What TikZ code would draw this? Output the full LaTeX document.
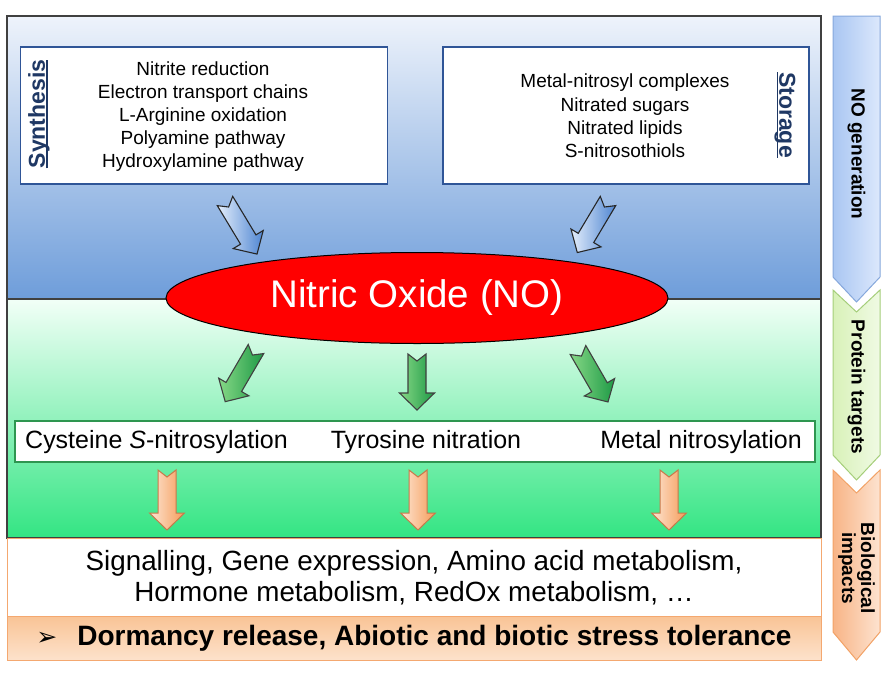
\documentclass[tikz,border=0pt]{standalone}
\usepackage{fontspec}
\setmainfont{Liberation Sans}
\newfontfamily\dejavu{DejaVu Sans}
\usetikzlibrary{shapes.geometric}
\newcommand\myul[1]{\setbox0\hbox{#1}\rlap{\rule[-2.6pt]{\wd0}{1.3pt}}\box0}
\definecolor{bluetop}{HTML}{EEF3FB}
\definecolor{bluebot}{HTML}{6E9DDA}
\definecolor{greentop}{HTML}{F2FFF7}
\definecolor{greenbot}{HTML}{33E583}
\definecolor{framec}{HTML}{404040}
\definecolor{navyc}{HTML}{1F3864}
\definecolor{boxblue}{HTML}{2F5597}
\definecolor{boxgreen}{HTML}{2E9650}
\definecolor{orline}{HTML}{F4A870}
\definecolor{bartop}{HTML}{F9C496}
\definecolor{barbot}{HTML}{FDE2CC}
\definecolor{batail}{HTML}{E4EEFB}
\definecolor{bahead}{HTML}{4E85D2}
\definecolor{gatail}{HTML}{86D886}
\definecolor{gahead}{HTML}{1E9A46}
\definecolor{oatail}{HTML}{FDE6D4}
\definecolor{oahead}{HTML}{F59B58}
\definecolor{oaline}{HTML}{C8784A}
\definecolor{sbl}{HTML}{A9C6F2}
\definecolor{sbr}{HTML}{DCE8FC}
\definecolor{sbd}{HTML}{86A8DC}
\definecolor{sgl}{HTML}{D8F1B8}
\definecolor{sgr}{HTML}{F0FAE4}
\definecolor{sgd}{HTML}{A5CE7A}
\definecolor{sol}{HTML}{F8B486}
\definecolor{sor}{HTML}{FDE3D0}
\definecolor{sod}{HTML}{F2A266}
\tikzset{
  listbox/.style={draw=boxblue, line width=1.8pt, fill=white, anchor=north west, inner sep=0pt},
  listtext/.style={align=center, font=\fontsize{19}{23.2}\selectfont, inner sep=0pt},
  sidelabel/.style={font=\bfseries\fontsize{23}{26}\selectfont, text=navyc, inner sep=0pt},
  protext/.style={font=\fontsize{25}{28}\selectfont, inner sep=0pt},
  sidetext/.style={font=\bfseries\fontsize{19}{19}\selectfont, rotate=-90, inner sep=0pt, align=center},
  bluearr/.style={left color=batail, right color=bahead, draw=black!85, line width=1.1pt},
  greenarr/.style={left color=gatail, right color=gahead, draw=black!75, line width=1.1pt},
  orangearr/.style={left color=oatail, right color=oahead, draw=oaline, line width=1pt},
  pics/barrow/.style args={#1/#2}{code={
    \path[#2] (0,-9) -- (#1-17,-9) -- (#1-17,-17.5) -- (#1,0) -- (#1-17,17.5) -- (#1-17,9) -- (0,9) -- (7,0) -- cycle;
  }}
}
\begin{document}
\begin{tikzpicture}[x=1pt,y=-1pt]
\useasboundingbox (0,0) rectangle (892,675);
% backgrounds
\shade[top color=bluetop, bottom color=bluebot] (7,16) rectangle (821,299);
\shade[top color=greentop, bottom color=greenbot] (7,299) rectangle (821,538);
\draw[framec, line width=1.5pt] (7,16) rectangle (821,538);
\draw[framec, line width=1.3pt] (7,299) -- (821,299);
\node[draw=orline, line width=1pt, fill=white, minimum width=814pt, minimum height=78pt, anchor=north west, inner sep=0pt] (impbox) at (7,538) {};
\node[draw=orline, line width=1pt, top color=bartop, bottom color=barbot, minimum width=814pt, minimum height=44pt, anchor=north west, inner sep=0pt] (bar) at (7,616) {};

% synthesis & storage
\node[listbox, minimum width=367pt, minimum height=137pt] (synbox) at (19.5,46) {};
\node[listbox, minimum width=366pt, minimum height=137pt] (stobox) at (442,46) {};
\node[sidelabel, rotate=90] (synlab) at (39,114) {\myul{Synthesis}};
\node[sidelabel, rotate=-90] (stolab) at (785,115) {\myul{Storage}};
\node[listtext] (syntext) at (203,116.5) {Nitrite reduction\\Electron transport chains\\L-Arginine oxidation\\Polyamine pathway\\Hydroxylamine pathway};
\node[listtext] (stotext) at (625,116) {Metal-nitrosyl complexes\\Nitrated sugars\\Nitrated lipids\\S-nitrosothiols};

% nitric oxide
\node[ellipse, draw=black, line width=1pt, fill=red, minimum width=502pt, minimum height=91pt, inner sep=0pt, text=white, font=\fontsize{38.5}{40}\selectfont] (no) at (417,298) {Nitric Oxide (NO)};

% protein targets
\node[draw=boxgreen, line width=1.8pt, fill=white, minimum width=800pt, minimum height=41pt, anchor=north west, inner sep=0pt] (probox) at (14,420) {};
\node[protext, anchor=west] (cys) at (25,442) {Cysteine \textit{S}-nitrosylation};
\node[protext] (tyr) at (426,442) {Tyrosine nitration};
\node[protext, anchor=east] (met) at (802,442) {Metal nitrosylation};

% impacts text
\node[align=center, font=\fontsize{27.8}{31}\selectfont, inner sep=0pt] (imptext) at (414,578) {Signalling, Gene expression, Amino acid metabolism,\\Hormone metabolism, RedOx metabolism, \dots};
\node[font=\bfseries\fontsize{28}{30}\selectfont, inner sep=0pt] (dorm) at (414,638) {{\dejavu\mdseries\fontsize{25}{26}\selectfont ➢}\hspace{20pt}Dormancy release, Abiotic and biotic stress tolerance};

% block arrows
\pic[rotate=-58.9] at (225,201) {barrow={62/bluearr}};
\pic[rotate=-120.8] at (608,201) {barrow={60/bluearr}};
\pic[rotate=-120.3] at (256,349) {barrow={61/greenarr}};
\pic[rotate=-90] at (417,354) {barrow={56/greenarr}};
\pic[rotate=-60] at (578,350) {barrow={60/greenarr}};
\pic[rotate=-90] at (167,470) {barrow={60/orangearr}};
\pic[rotate=-90] at (418,470) {barrow={60/orangearr}};
\pic[rotate=-90] at (669,470) {barrow={60/orangearr}};

% side chevrons
\draw[sbd, line width=1pt, left color=sbl, right color=sbr] (833,16) -- (880,16) -- (880,277) -- (856.5,302) -- (833,277) -- cycle;
\draw[sgd, line width=1pt, left color=sgl, right color=sgr] (833,290) -- (856.5,312) -- (880,290) -- (880,455) -- (856.5,480) -- (833,455) -- cycle;
\draw[sod, line width=1pt, left color=sol, right color=sor] (833,470) -- (856.5,493) -- (880,470) -- (880,632) -- (856.5,660) -- (833,632) -- cycle;
\node[sidetext] (gen) at (856.5,154) {NO generation};
\node[sidetext] (prot) at (856.5,387) {Protein targets};
\node[sidetext] (bio) at (856.5,568) {Biological\\impacts};
\end{tikzpicture}
\end{document}
